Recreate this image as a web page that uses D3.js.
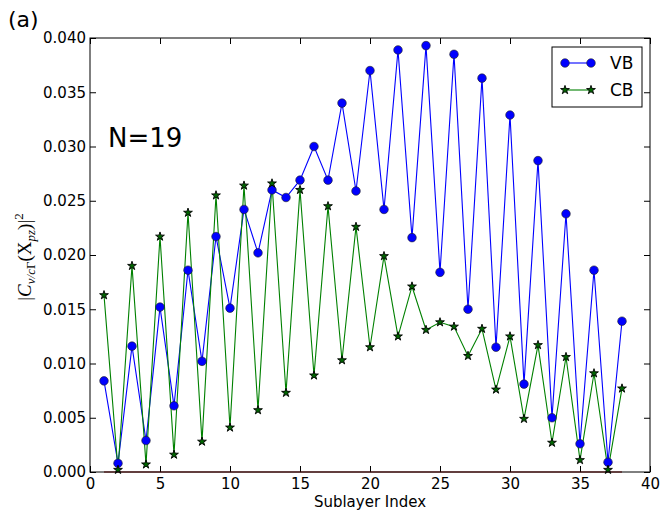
<!DOCTYPE html>
<html>
<head>
<meta charset="utf-8">
<script src="https://cdn.jsdelivr.net/npm/d3@7"></script>
<style>
  body { margin: 0; background: #fff; }
  svg text { font-family: "DejaVu Sans", sans-serif; }
  svg text.math { font-family: "Liberation Serif", "DejaVu Serif", serif; }
</style>
</head>
<body>
<div id="chart"></div>
<script>
// sublayer index 1..38
const layers = d3.range(1, 39);
const vb = [0.0084, 0.0008, 0.0116, 0.0029, 0.0152, 0.0061, 0.0186, 0.0102, 0.0217, 0.0151,
            0.0242, 0.0202, 0.0260, 0.0253, 0.0269, 0.0300, 0.0269, 0.0340, 0.0259, 0.0370,
            0.0242, 0.0389, 0.0216, 0.0393, 0.0184, 0.0385, 0.0150, 0.0363, 0.0115, 0.0329,
            0.0081, 0.0287, 0.0050, 0.0238, 0.0026, 0.0186, 0.0009, 0.0139];
const cb = [0.0163, 0.0002, 0.0190, 0.0007, 0.0217, 0.0016, 0.0239, 0.0028, 0.0255, 0.0041,
            0.0264, 0.0057, 0.0266, 0.0073, 0.0260, 0.0089, 0.0245, 0.0103, 0.0226, 0.0115,
            0.0199, 0.0125, 0.0171, 0.0131, 0.0138, 0.0134, 0.0107, 0.0132, 0.0076, 0.0125,
            0.0049, 0.0117, 0.0027, 0.0106, 0.0011, 0.0091, 0.0002, 0.0077];
const zeros = layers.map(() => 0);
const xTicks = [0, 5, 10, 15, 20, 25, 30, 35, 40];
const yTicks = [0, 0.005, 0.010, 0.015, 0.020, 0.025, 0.030, 0.035, 0.040];

const width = 663, height = 516,
      margin = {top: 38, right: 13, bottom: 44, left: 90},
      innerWidth = width - margin.left - margin.right,
      innerHeight = height - margin.top - margin.bottom;

const svg = d3.select("#chart").append("svg")
    .attr("width", width)
    .attr("height", height);

const viz = svg.append("g")
    .attr("transform", `translate(${margin.left},${margin.top})`);

const x = d3.scaleLinear().domain([0, 40]).range([0, innerWidth]);
const y = d3.scaleLinear().domain([0, 0.04]).range([innerHeight, 0]);

// axes, ticks pointing inward on all four sides
const tickStyle = g => {
    g.select(".domain").remove();
    g.selectAll("line").attr("stroke", "#000");
    g.selectAll("text").attr("font-size", "15px").attr("fill", "#000");
};
const noLabels = g => g.selectAll("text").remove();

viz.append("g")
    .attr("transform", `translate(0,${innerHeight})`)
    .call(d3.axisBottom(x).tickValues(xTicks).tickSizeInner(-6).tickPadding(6).tickFormat(d3.format("d")))
    .call(tickStyle);
viz.append("g")
    .call(d3.axisTop(x).tickValues(xTicks).tickSizeInner(-6))
    .call(tickStyle).call(noLabels);
viz.append("g")
    .call(d3.axisLeft(y).tickValues(yTicks).tickSizeInner(-6).tickPadding(4).tickFormat(d3.format(".3f")))
    .call(tickStyle);
viz.append("g")
    .attr("transform", `translate(${innerWidth},0)`)
    .call(d3.axisRight(y).tickValues(yTicks).tickSizeInner(-6))
    .call(tickStyle).call(noLabels);

const line = d3.line().x((d, i) => x(layers[i])).y(d => y(d));

viz.append("path").datum(zeros)
    .attr("fill", "none").attr("stroke", "#8b0000").attr("stroke-width", 1.2)
    .attr("d", line);

viz.append("path").datum(vb)
    .attr("fill", "none").attr("stroke", "#0000ff").attr("stroke-width", 1.1)
    .attr("d", line);

viz.append("path").datum(cb)
    .attr("fill", "none").attr("stroke", "#008000").attr("stroke-width", 1.1)
    .attr("d", line);

viz.append("g").selectAll("circle")
    .data(vb).enter().append("circle")
    .attr("cx", (d, i) => x(layers[i]))
    .attr("cy", d => y(d))
    .attr("r", 4.3)
    .attr("fill", "#0000ff")
    .attr("stroke", "#222")
    .attr("stroke-width", 0.6);

const star = d3.symbol().type(d3.symbolStar).size(24);
viz.append("g").selectAll("path")
    .data(cb).enter().append("path")
    .attr("d", star)
    .attr("transform", (d, i) => `translate(${x(layers[i])},${y(d)})`)
    .attr("fill", "#006400")
    .attr("stroke", "#000")
    .attr("stroke-width", 0.9);

// frame
viz.append("rect")
    .attr("width", innerWidth).attr("height", innerHeight)
    .attr("fill", "none").attr("stroke", "#000").attr("stroke-width", 1);

// legend
const legend = viz.append("g").attr("transform", `translate(${innerWidth - 98},${9})`);
legend.append("rect")
    .attr("width", 90).attr("height", 60)
    .attr("fill", "#fff").attr("stroke", "#000").attr("stroke-width", 1);
legend.append("line").attr("x1", 13).attr("x2", 39).attr("y1", 16).attr("y2", 16)
    .attr("stroke", "#0000ff").attr("stroke-width", 1.1);
[13, 39].forEach(cx => legend.append("circle").attr("cx", cx).attr("cy", 16).attr("r", 4.3)
    .attr("fill", "#0000ff").attr("stroke", "#222").attr("stroke-width", 0.6));
legend.append("text").attr("x", 58).attr("y", 22).attr("font-size", "17px").text("VB");
legend.append("line").attr("x1", 13).attr("x2", 39).attr("y1", 43).attr("y2", 43)
    .attr("stroke", "#008000").attr("stroke-width", 1.1);
[13, 39].forEach(cx => legend.append("path").attr("d", star)
    .attr("transform", `translate(${cx},43)`)
    .attr("fill", "#006400").attr("stroke", "#000").attr("stroke-width", 0.9));
legend.append("text").attr("x", 58).attr("y", 49).attr("font-size", "17px").text("CB");

// annotations
viz.append("text").attr("x", 18).attr("y", 109).attr("font-size", "26px").text("N=19");
svg.append("text").attr("x", 8).attr("y", 27).attr("font-size", "22px").text("(a)");

svg.append("text")
    .attr("x", margin.left + innerWidth / 2).attr("y", 507)
    .attr("text-anchor", "middle").attr("font-size", "15px")
    .text("Sublayer Index");

const ylab = svg.append("text")
    .classed("math", true)
    .attr("transform", `translate(31,${margin.top + innerHeight / 2 + 2}) rotate(-90)`)
    .attr("text-anchor", "middle")
    .attr("font-size", "19px");
ylab.append("tspan").text("|");
ylab.append("tspan").attr("font-style", "italic").text("C");
ylab.append("tspan").attr("font-style", "italic").attr("font-size", "13px").attr("dy", 4).text("v/c");
ylab.append("tspan").attr("font-size", "13px").text("Γ");
ylab.append("tspan").attr("dy", -4).text("(X");
ylab.append("tspan").attr("font-style", "italic").attr("font-size", "13px").attr("dy", 4).text("pz");
ylab.append("tspan").attr("dy", -4).text(")|");
ylab.append("tspan").attr("font-size", "13px").attr("dy", -8).text("2");
</script>
</body>
</html>
